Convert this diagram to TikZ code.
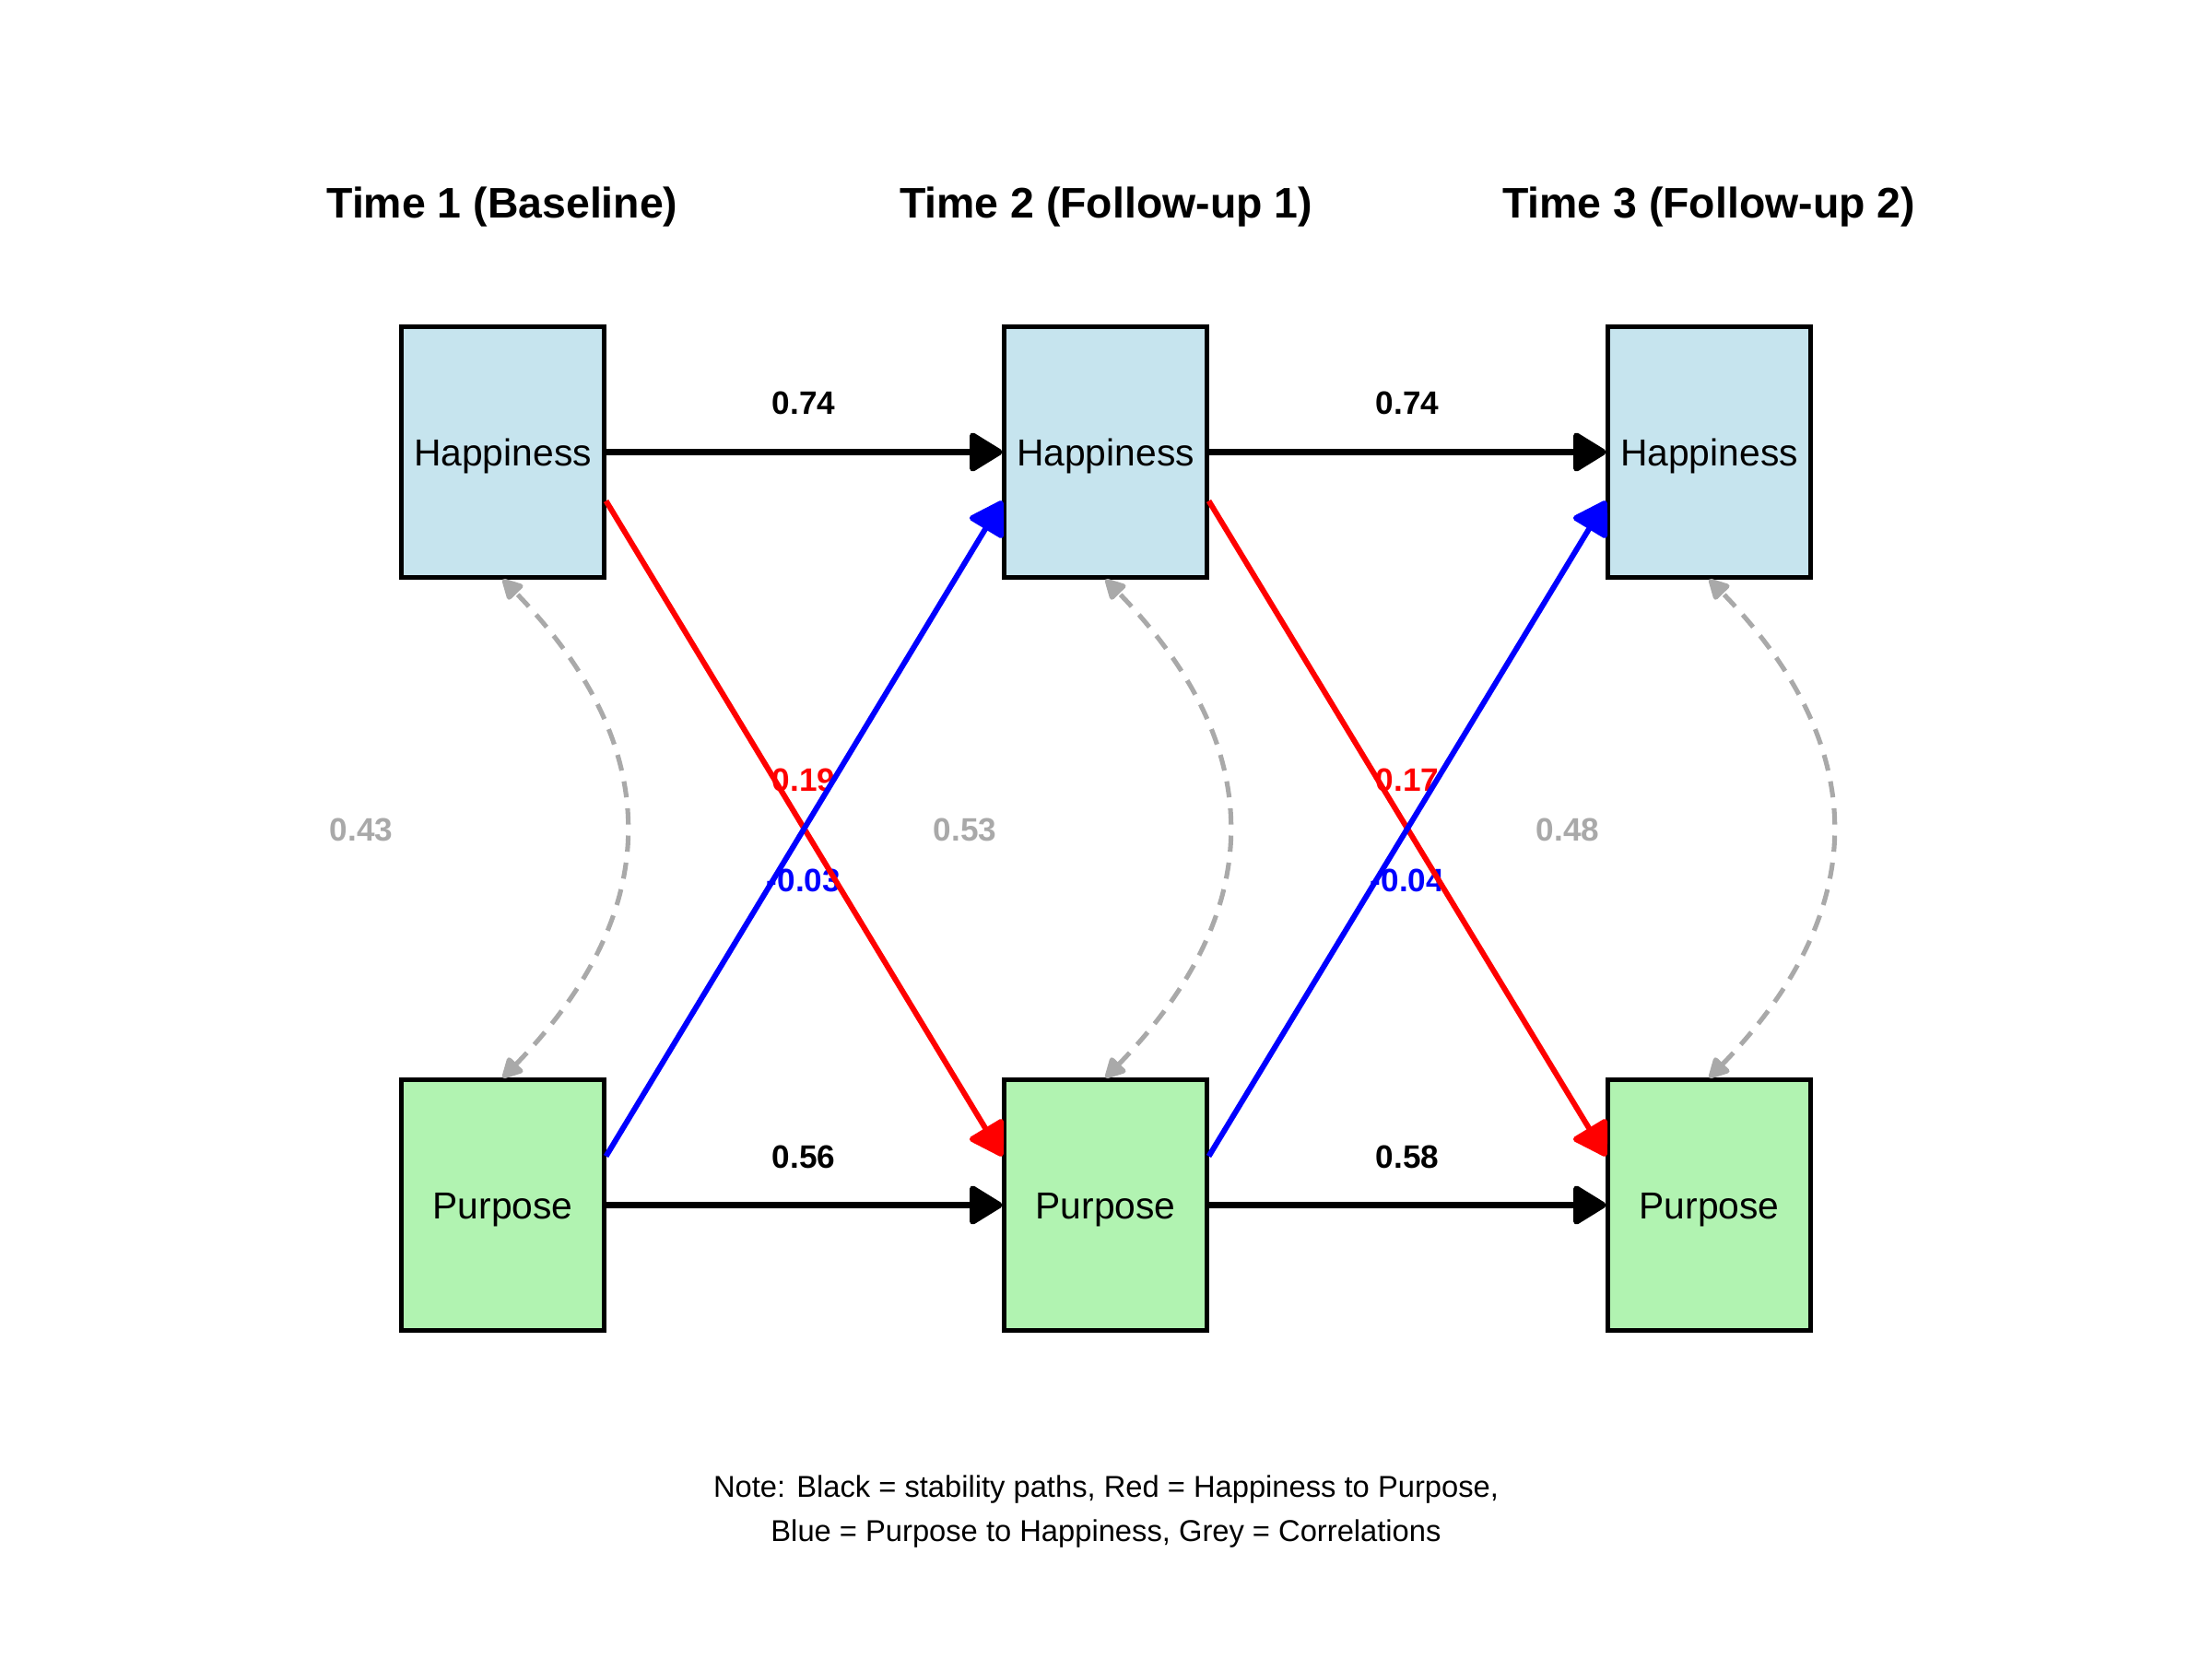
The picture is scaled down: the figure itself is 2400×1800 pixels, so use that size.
\documentclass[tikz,border=0pt]{standalone}
\usepackage{fontspec}
\setmainfont{Liberation Sans}
\usetikzlibrary{arrows.meta,calc}
\definecolor{hapfill}{HTML}{C6E4EE}
\definecolor{purfill}{HTML}{B1F3B1}
\definecolor{corrgrey}{HTML}{A9A9A9}
\begin{document}
\begin{tikzpicture}[x=0.01cm,y=-0.01cm,
  varbox/.style={draw=black,line width=1.4pt,minimum width=2.19cm,minimum height=2.71cm,inner sep=0pt,text height=8.6pt,text depth=0pt,font=\fontsize{11.6}{13}\selectfont},
  hapbox/.style={varbox,fill=hapfill},
  purbox/.style={varbox,fill=purfill},
  timetitle/.style={font=\fontsize{13.2}{15}\selectfont\bfseries},
  coef/.style={font=\fontsize{10}{12}\selectfont\bfseries},
  bigtip/.style={-{Triangle[length=11pt,width=13pt,round]}},
  stab/.style={line width=1.9pt,draw=black,bigtip},
  crossred/.style={line width=1.7pt,draw=red,bigtip},
  crossblue/.style={line width=1.7pt,draw=blue,bigtip},
  corr/.style={line width=1.45pt,draw=corrgrey,dash pattern=on 5pt off 3.4pt,{Triangle[length=7pt,width=7pt,round]}-{Triangle[length=7pt,width=7pt,round]}}
]
\useasboundingbox (0,0) rectangle (2400,1800);

% titles
\node[timetitle] (t1) at (545,224) {Time 1 (Baseline)};
\node[timetitle] (t2) at (1200,224) {Time 2 (Follow-up 1)};
\node[timetitle] (t3) at (1854,224) {Time 3 (Follow-up 2)};

% boxes
\node[hapbox] (h1) at (545.5,490.5) {Happiness};
\node[hapbox] (h2) at (1199.5,490.5) {Happiness};
\node[hapbox] (h3) at (1854.5,490.5) {Happiness};
\node[purbox] (p1) at (545.5,1307.5) {Purpose};
\node[purbox] (p2) at (1199.5,1307.5) {Purpose};
\node[purbox] (p3) at (1854.5,1307.5) {Purpose};

% coefficient labels
\node[coef] (l1) at (872,437) {0.74};
\node[coef] (l2) at (1527,437) {0.74};
\node[coef] (l3) at (872,1255) {0.56};
\node[coef] (l4) at (1527,1255) {0.58};
\node[coef,text=red] (l5) at (872,846) {0.19};
\node[coef,text=red] (l6) at (1527,846) {0.17};
\node[coef,text=blue] (l7) at (872,955) {-0.03};
\node[coef,text=blue] (l8) at (1527,955) {-0.04};
\node[coef,text=corrgrey] (c1) at (392,900) {0.43};
\node[coef,text=corrgrey] (c2) at (1047,900) {0.53};
\node[coef,text=corrgrey] (c3) at (1701,900) {0.48};

% stability paths
\draw[stab] (h1.east) -- (h2.west);
\draw[stab] (h2.east) -- (h3.west);
\draw[stab] (p1.east) -- (p2.west);
\draw[stab] (p2.east) -- (p3.west);

% cross-lagged paths
\draw[crossred] ($(h1.east)+(0,53)$) -- ($(p2.west)+(0,-53)$);
\draw[crossred] ($(h2.east)+(0,53)$) -- ($(p3.west)+(0,-53)$);
\draw[crossblue] ($(p1.east)+(0,-53)$) -- ($(h2.west)+(0,53)$);
\draw[crossblue] ($(p2.east)+(0,-53)$) -- ($(h3.west)+(0,53)$);

% correlations
\draw[corr] (p1.north) .. controls +(177,-182) and +(177,182) .. (h1.south);
\draw[corr] (p2.north) .. controls +(177,-182) and +(177,182) .. (h2.south);
\draw[corr] (p3.north) .. controls +(177,-182) and +(177,182) .. (h3.south);

% note
\node[align=center,font=\fontsize{9.3}{13.7}\selectfont] (note) at (1200,1640)
  {Note: Black = stability paths, Red = Happiness to Purpose,\\Blue = Purpose to Happiness, Grey = Correlations};
\end{tikzpicture}
\end{document}
